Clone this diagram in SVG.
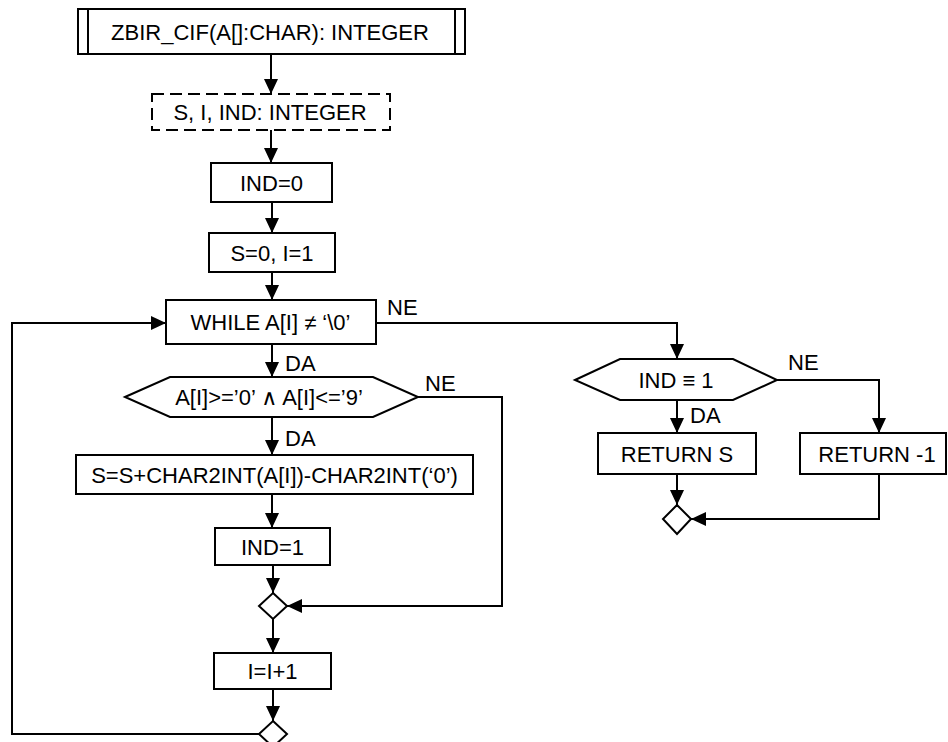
<svg xmlns="http://www.w3.org/2000/svg" width="948" height="742" viewBox="0 0 948 742">
<defs>
<marker id="ah" viewBox="0 0 15 14" refX="15" refY="7" markerWidth="15" markerHeight="14" markerUnits="userSpaceOnUse" orient="auto"><path d="M0,0 L15,7 L0,14 Z" fill="#000"/></marker>
<style>
.b{fill:#fff;stroke:#000;stroke-width:2}
.d{fill:#fff;stroke:#000;stroke-width:2;stroke-dasharray:12 6}
.c{fill:none;stroke:#000;stroke-width:2;marker-end:url(#ah)}
.l{fill:none;stroke:#000;stroke-width:2}
text{font-family:"Liberation Sans","DejaVu Sans",sans-serif;font-size:22px;fill:#000}
.m{text-anchor:middle}
</style>
</defs>
<rect width="948" height="742" fill="#fff"/>
<g id="connectors">
<path class="c" d="M271,54 V94"/>
<path class="c" d="M271,130 V163"/>
<path class="c" d="M272,202 V233"/>
<path class="c" d="M272,272 V300"/>
<path class="c" d="M272,344 V377"/>
<path class="c" d="M272,417 V455"/>
<path class="c" d="M272,494 V528"/>
<path class="c" d="M273,565 V593"/>
<path class="c" d="M418,397 H502 V606 H287"/>
<path class="c" d="M273,619 V653"/>
<path class="c" d="M273,689 V721"/>
<path class="c" d="M259,734 H12 V323 H166"/>
<path class="c" d="M376,323 H677 V359"/>
<path class="c" d="M677,400 V433"/>
<path class="c" d="M777,380 H879 V433"/>
<path class="c" d="M677,474 V505"/>
<path class="c" d="M879,474 V519 H691"/>
<text x="387" y="315">NE</text>
<text x="285" y="371">DA</text>
<text x="425" y="391">NE</text>
<text x="285" y="446">DA</text>
<text x="788" y="370">NE</text>
<text x="690" y="423">DA</text>
</g>
<g id="title">
<rect class="b" x="78" y="9" width="387" height="45"/>
<path class="l" d="M88,9 V54 M455,9 V54"/>
<text class="m" x="270" y="39.5">ZBIR_CIF(A[]:CHAR): INTEGER</text>
</g>
<g id="decl">
<rect class="d" x="152" y="94" width="238" height="36"/>
<text class="m" x="270" y="120">S, I, IND: INTEGER</text>
</g>
<g id="ind0">
<rect class="b" x="211" y="163" width="121" height="39"/>
<text class="m" x="271.5" y="190.5">IND=0</text>
</g>
<g id="init">
<rect class="b" x="209" y="233" width="126" height="39"/>
<text class="m" x="272" y="260.5">S=0, I=1</text>
</g>
<g id="while">
<rect class="b" x="166" y="300" width="210" height="44"/>
<text class="m" x="270.5" y="330">WHILE A[I] ≠ ‘\0’</text>
</g>
<g id="cond">
<polygon class="b" points="125,397 170,377 373,377 418,397 373,417 170,417"/>
<text class="m" x="269" y="405">A[I]&gt;=’0’ ∧ A[I]&lt;=’9’</text>
</g>
<g id="sum">
<rect class="b" x="76" y="455" width="397" height="39"/>
<text class="m" x="274.5" y="482.5">S=S+CHAR2INT(A[I])-CHAR2INT(‘0’)</text>
</g>
<g id="ind1">
<rect class="b" x="215" y="528" width="115" height="37"/>
<text class="m" x="272.5" y="554.5">IND=1</text>
</g>
<g id="merge1">
<polygon class="b" points="273,593 287,606 273,619 259,606"/>
</g>
<g id="inc">
<rect class="b" x="214" y="653" width="117" height="36"/>
<text class="m" x="272.5" y="679">I=I+1</text>
</g>
<g id="merge2">
<polygon class="b" points="273,721 287,734 273,747 259,734"/>
</g>
<g id="check">
<polygon class="b" points="575,380 620,359 733,359 777,380 733,400 620,400"/>
<text class="m" x="676" y="388">IND ≡ 1</text>
</g>
<g id="rets">
<rect class="b" x="598" y="433" width="158" height="41"/>
<text class="m" x="677" y="461.5">RETURN S</text>
</g>
<g id="retm1">
<rect class="b" x="800" y="433" width="146" height="41"/>
<text class="m" x="877" y="461.5">RETURN -1</text>
</g>
<g id="merge3">
<polygon class="b" points="677,505 691,519 677,534 663,519"/>
</g>
</svg>
